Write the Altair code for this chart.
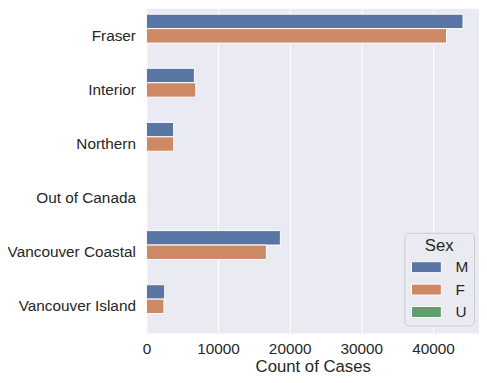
import altair as alt
import pandas as pd

regions = ["Fraser", "Interior", "Northern", "Out of Canada", "Vancouver Coastal", "Vancouver Island"]
sexes = ["M", "F", "U"]
male = [44200, 6700, 3800, 120, 18700, 2550]
female = [41900, 6900, 3800, 0, 16750, 2450]
unknown = [0, 0, 0, 0, 0, 0]
colors = ["#5975A4", "#CC8963", "#5F9E6E"]
x_ticks = [0, 10000, 20000, 30000, 40000]

rows = []
for i, r in enumerate(regions):
    for s, vals in zip(sexes, [male, female, unknown]):
        rows.append({"region": r, "sex": s, "count": vals[i]})
df = pd.DataFrame(rows)

FONT = "Liberation Sans"
TXT = "#262626"

chart = (
    alt.Chart(df)
    .mark_bar(stroke="white", strokeWidth=1)
    .encode(
        x=alt.X(
            "count:Q",
            title="Count of Cases",
            scale=alt.Scale(domain=[0, 46430], nice=False, zero=True),
            axis=alt.Axis(values=x_ticks, format="d", labelPadding=8, titlePadding=2, labelFlush=False),
        ),
        y=alt.Y(
            "region:N",
            sort=regions,
            title=None,
            scale=alt.Scale(paddingInner=0.2, paddingOuter=0.1),
            axis=alt.Axis(labelPadding=11, grid=False),
        ),
        yOffset=alt.YOffset(
            "sex:N", sort=sexes, scale=alt.Scale(domain=sexes, paddingInner=0, paddingOuter=0)
        ),
        color=alt.Color(
            "sex:N",
            title="Sex",
            scale=alt.Scale(domain=sexes, range=colors),
            legend=alt.Legend(
                orient="none",
                legendX=259,
                legendY=225,
                symbolType="M-2.727,-1H2.727V1H-2.727Z",
                symbolSize=121,
                symbolStrokeColor="white",
                symbolStrokeWidth=1,
                symbolOpacity=1,
                symbolOffset=9.5,
                labelOffset=21.5,
                padding=5,
                titlePadding=5,
                rowPadding=5.5,
                titleAnchor="middle",
                titleAlign="center",
                strokeColor="#cccccc",
                fillColor="#EAEAF2",
                cornerRadius=4,
            ),
        ),
        strokeOpacity=alt.condition("datum.count > 0", alt.value(1), alt.value(0)),
    )
    .properties(
        width=334,
        height=326,
        autosize=alt.AutoSizeParams(type="none"),
        padding={"left": 139, "top": 0, "right": 0, "bottom": 45},
    )
    .configure_view(fill="#EAEAF2", stroke=None)
    .configure_axis(
        grid=True,
        gridColor="white",
        gridWidth=1,
        domain=False,
        ticks=False,
        labelFont=FONT,
        labelFontSize=15.4,
        labelColor=TXT,
        titleFont=FONT,
        titleFontSize=16.8,
        titleFontWeight="normal",
        titleColor=TXT,
    )
    .configure_legend(
        labelFont=FONT,
        labelFontSize=15.4,
        labelColor=TXT,
        titleFont=FONT,
        titleFontSize=16.8,
        titleFontWeight="normal",
        titleColor=TXT,
    )
)

chart.save("out.html", embed_options={"renderer": "svg", "actions": False})
